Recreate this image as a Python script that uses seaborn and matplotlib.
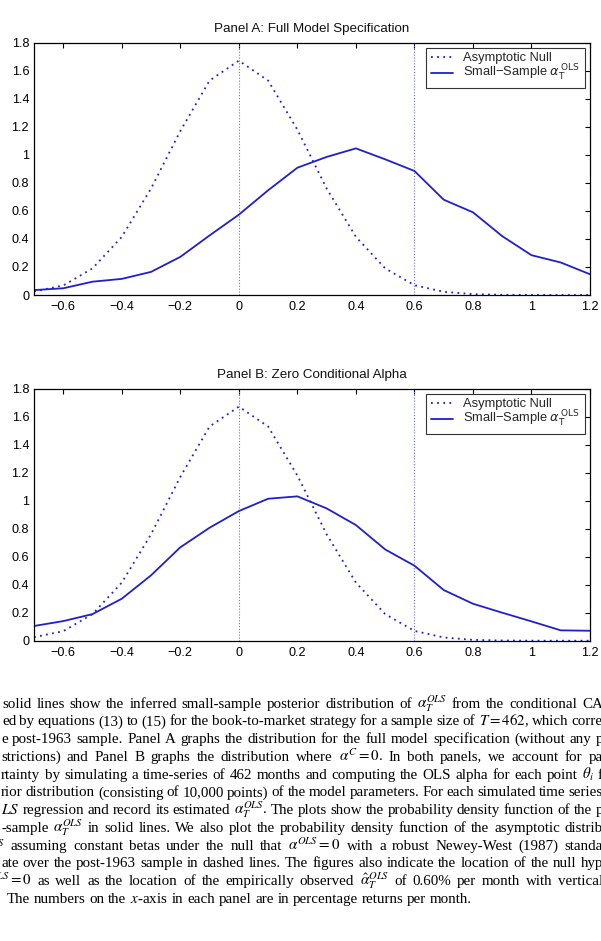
import matplotlib
matplotlib.use("Agg")
import matplotlib.pyplot as plt
import numpy as np
import pandas as pd
import seaborn as sns
from matplotlib.font_manager import FontProperties

# ---------------- data ----------------
alpha_grid = [-0.7, -0.6, -0.5, -0.4, -0.3, -0.2, -0.1, 0.0, 0.1, 0.2,
              0.3, 0.4, 0.5, 0.6, 0.7, 0.8, 0.9, 1.0, 1.1, 1.2]
asymptotic_null = [0.025, 0.068, 0.19, 0.415, 0.76, 1.17, 1.53, 1.672, 1.53, 1.18,
                   0.76, 0.415, 0.19, 0.070, 0.023, 0.006, 0.0015, 0.0003, 0.0, 0.0]
small_sample_A = [0.035, 0.048, 0.095, 0.115, 0.165, 0.272, 0.425, 0.573, 0.747, 0.908,
                  0.985, 1.046, 0.968, 0.885, 0.680, 0.590, 0.420, 0.284, 0.232, 0.148]
small_sample_B = [0.105, 0.140, 0.190, 0.300, 0.467, 0.667, 0.807, 0.926, 1.014, 1.031,
                  0.945, 0.826, 0.652, 0.536, 0.362, 0.264, 0.200, 0.138, 0.074, 0.071]
panel_titles = ["Panel A: Full Model Specification", "Panel B: Zero Conditional Alpha"]
null_location = 0.0
observed_alpha = 0.6
x_ticks = [-0.6, -0.4, -0.2, 0.0, 0.2, 0.4, 0.6, 0.8, 1.0, 1.2]
x_tick_labels = ["\u22120.6", "\u22120.4", "\u22120.2", "0", "0.2", "0.4", "0.6", "0.8", "1", "1.2"]
y_ticks = [0.0, 0.2, 0.4, 0.6, 0.8, 1.0, 1.2, 1.4, 1.6, 1.8]
y_tick_labels = ["0", "0.2", "0.4", "0.6", "0.8", "1", "1.2", "1.4", "1.6", "1.8"]
legend_labels = ["Asymptotic Null", "Small\u2212Sample $\\alpha_{\\mathrm{T}}^{\\,\\mathrm{OLS}}$"]

caption_lines = [
    "solid lines show the inferred small-sample posterior distribution of $\\alpha_T^{OLS}$ from the conditional CA",
    "ed by equations (13) to (15) for the book-to-market strategy for a sample size of $T=462$, which corre",
    "e post-1963 sample.  Panel A graphs the distribution for the full model specification (without any p",
    "strictions) and Panel B graphs the distribution where $\\alpha^C=0$.  In both panels, we account for pa",
    "rtainty by simulating a time-series of 462 months and computing the OLS alpha for each point $\\theta_i$ f",
    "rior distribution (consisting of 10,000 points) of the model parameters. For each simulated time series",
    "$LS$ regression and record its estimated $\\alpha_T^{OLS}$. The plots show the probability density function of the p",
    "-sample $\\alpha_T^{OLS}$ in solid lines.  We also plot the probability density function of the asymptotic distrib",
    "$^S$ assuming constant betas under the null that $\\alpha^{OLS}=0$ with a robust Newey-West (1987) standa",
    "ate over the post-1963 sample in dashed lines.  The figures also indicate the location of the null hyp",
    "$^{LS}=0$ as well as the location of the empirically observed $\\hat{\\alpha}_T^{OLS}$ of 0.60% per month with vertical",
    "The numbers on the $x$-axis in each panel are in percentage returns per month.",
]
caption_left_px = [2, 2, 1, 1, 1, 1, 1, 1, -3, 1, -4, 7]

# ---------------- style ----------------
sns.set_theme(style="white")
plt.rcParams["font.family"] = ["Liberation Sans", "DejaVu Sans"]
plt.rcParams["axes.unicode_minus"] = True

W, H = 601, 941
fig = plt.figure(figsize=(W / 100, H / 100), dpi=100)
fig.patch.set_facecolor("white")

line_color = "#1f1fd0"
vline_color = "#6b6bf0"

axes_boxes = [(34, 42.7, 590, 295), (34, 388.7, 590, 640.7)]
series = [small_sample_A, small_sample_B]

for (l, t, r, b), title, ss in zip(axes_boxes, panel_titles, series):
    ax = fig.add_axes([l / W, 1 - b / H, (r - l) / W, (b - t) / H])
    ax.set_facecolor("white")
    df = pd.DataFrame({"alpha": alpha_grid, "null": asymptotic_null, "small": ss})
    sns.lineplot(data=df, x="alpha", y="null", ax=ax, color=line_color,
                 linestyle=(0, (1.0, 2.4)), linewidth=1.3, label=legend_labels[0])
    sns.lineplot(data=df, x="alpha", y="small", ax=ax, color=line_color,
                 linewidth=1.3, label=legend_labels[1])
    ax.axvline(null_location, color=vline_color, linestyle=(0, (1, 1.6)), linewidth=0.8, zorder=1)
    ax.axvline(observed_alpha, color=vline_color, linestyle=(0, (1, 1.6)), linewidth=0.8, zorder=1)
    ax.set_xlim(-0.7, 1.2)
    ax.set_ylim(0, 1.8)
    ax.set_xticks(x_ticks)
    ax.set_xticklabels(x_tick_labels)
    ax.set_yticks(y_ticks)
    ax.set_yticklabels(y_tick_labels)
    ax.set_xlabel("")
    ax.set_ylabel("")
    ax.tick_params(direction="in", top=True, right=True, length=3.6, width=0.8,
                   colors="black", labelsize=9.1, pad=3.5)
    ax.tick_params(axis="x", pad=4.5)
    for sp in ax.spines.values():
        sp.set_visible(True)
        sp.set_color("black")
        sp.set_linewidth(0.9)
    ax.set_title(title, fontsize=9.6, pad=7.5, color="#111111")
    leg = ax.legend(loc="upper right", frameon=True, fancybox=False,
                    prop=FontProperties(family="Liberation Sans", size=9.3,
                                        math_fontfamily="dejavusans"),
                    borderaxespad=0.4, handlelength=1.75, handletextpad=0.8,
                    labelspacing=-0.1, borderpad=0.35)
    leg.get_frame().set_edgecolor("black")
    leg.get_frame().set_linewidth(0.8)

# ---------------- caption (justified, clipped at the page edges) ----------------
def split_tokens(s):
    toks, cur, inmath = [], "", False
    for ch in s:
        if ch == "$":
            inmath = not inmath
            cur += ch
        elif ch == " " and not inmath:
            if cur:
                toks.append(cur)
            cur = ""
        else:
            cur += ch
    if cur:
        toks.append(cur)
    return toks

renderer = fig.canvas.get_renderer()
cap_size = 10.8
right_target = 603
for i, (line, x0) in enumerate(zip(caption_lines, caption_left_px)):
    base_y = 707.7 + 17.73 * i
    toks = split_tokens(line)
    texts = []
    for tk in toks:
        tt = fig.text(0, 1 - base_y / H, tk, fontsize=cap_size, family="Liberation Serif",
                      math_fontfamily="stix", va="baseline", ha="left", color="black")
        texts.append(tt)
    widths = [tt.get_window_extent(renderer).width for tt in texts]
    if i < len(caption_lines) - 1 and len(toks) > 1:
        gap = (right_target - x0 - sum(widths)) / (len(toks) - 1)
    else:
        gap = cap_size * 1.39 * 0.25
    x = x0
    for tt, w in zip(texts, widths):
        tt.set_x(x / W)
        x += w + gap

fig.savefig("out.png", dpi=100, facecolor="white")
